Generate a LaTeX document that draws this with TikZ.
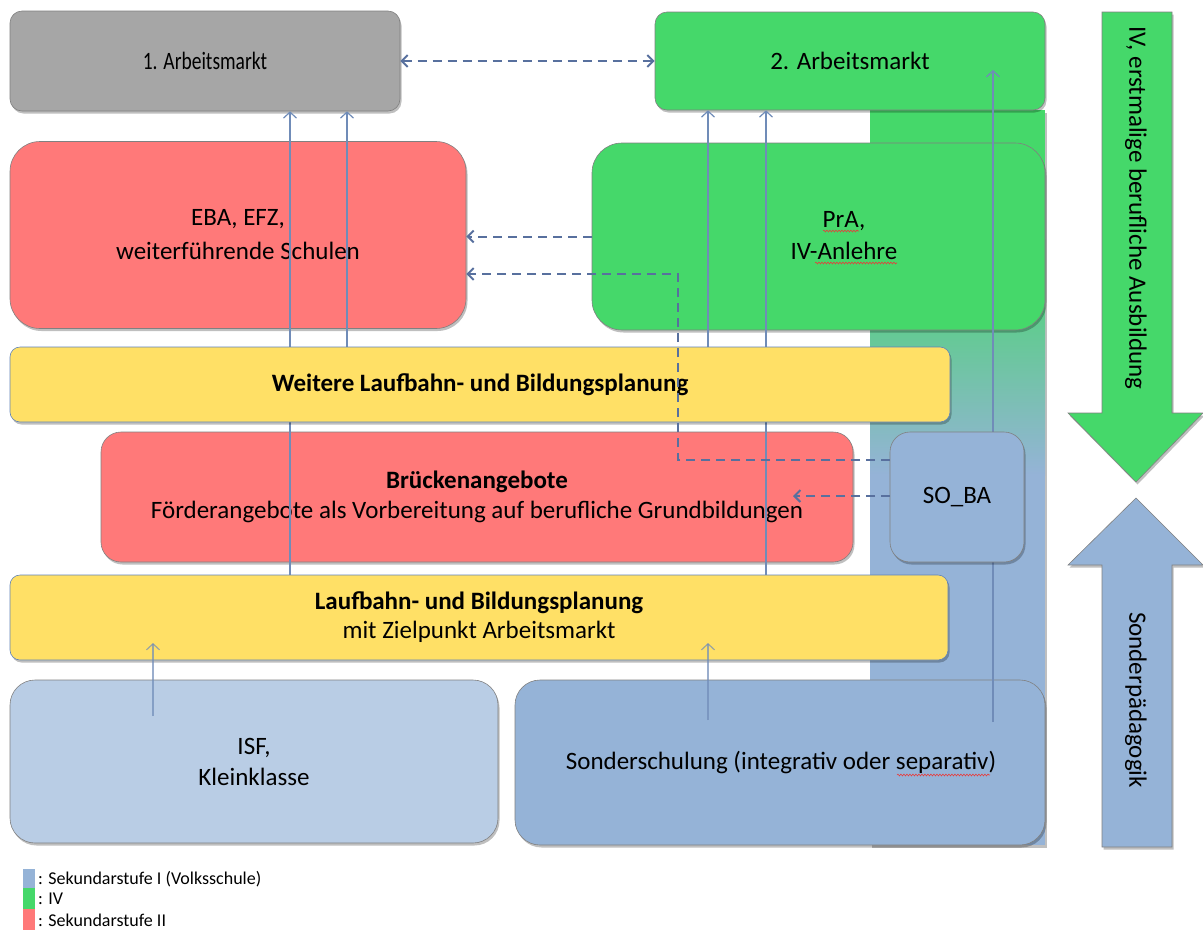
\documentclass[tikz,border=0pt]{standalone}
\usepackage{fontspec}
\setmainfont{Carlito}
\usetikzlibrary{arrows.meta,shadows,decorations.pathmorphing}
\definecolor{cgray}{RGB}{166,166,166}
\definecolor{cgreen}{RGB}{69,216,106}
\definecolor{cred}{RGB}{255,121,121}
\definecolor{cyellow}{RGB}{255,224,102}
\definecolor{clblue}{RGB}{185,205,229}
\definecolor{cblue}{RGB}{149,179,215}
\definecolor{carrow}{RGB}{112,140,184}
\definecolor{cdash}{RGB}{88,112,158}
\definecolor{cborder}{RGB}{128,128,128}
\definecolor{cyborder}{RGB}{95,130,185}
\definecolor{cspell}{RGB}{230,60,60}
\pgfdeclarelayer{bg}
\pgfdeclarelayer{arr}
\pgfsetlayers{bg,arr,main}
\begin{document}
\begin{tikzpicture}[x=1pt,y=-1pt,
  box/.style={draw=cborder, line width=0.6pt, rectangle, rounded corners=#1, inner sep=0pt, align=center,
    font=\fontsize{25}{32}\selectfont,
    drop shadow={shadow xshift=1.5pt, shadow yshift=-2.5pt, opacity=0.25, fill=black}},
  box/.default=12pt,
  ybox/.style={box=#1, draw=cyborder},
  lbl/.style={align=center, font=\fontsize{25}{32}\selectfont, inner sep=0pt},
  solidarr/.style={draw=carrow, line width=1.2pt, -{Straight Barb[length=6pt,width=13pt]}},
  dasharr/.style={draw=cdash, line width=2pt, dash pattern=on 9pt off 6pt},
  dtip/.style={-{Straight Barb[length=6pt,width=12pt]}},
  bigarr/.style={draw=cborder, line width=0.6pt, drop shadow={shadow xshift=1.5pt, shadow yshift=-2.5pt, opacity=0.25, fill=black}},
  spell/.style={draw=cspell, line width=0.6pt, decorate, decoration={snake, amplitude=0.9pt, segment length=3pt}},
  legtxt/.style={anchor=west, inner sep=0pt, font=\fontsize{18}{19}\selectfont}
]
\useasboundingbox (0,0) rectangle (1203,930);

\begin{pgfonlayer}{bg}
% gradient strip
\fill[cgreen, drop shadow={shadow xshift=1.5pt, shadow yshift=-2.5pt, opacity=0.25, fill=black}] (870,110) rectangle (1045,845);
\fill[cgreen] (870,110) rectangle (1045,240);
\shade[top color=cgreen, bottom color=cblue] (870,239) rectangle (1045,475);
\fill[cblue] (870,474) rectangle (1045,845);

\node[box=12pt, fill=cgray, minimum width=390pt, minimum height=100pt] (am1) at (205,61) {\scalebox{0.78}[1]{1. Arbeitsmarkt}};
\node[box=12pt, fill=cgreen, minimum width=390pt, minimum height=98pt] (am2) at (850,61) {2. Arbeitsmarkt};
\node[box=30pt, fill=cred, minimum width=456pt, minimum height=187pt, font=\fontsize{25}{34}\selectfont] (eba) at (238,235) {EBA, EFZ,\\weiterführende Schulen};
\node[box=30pt, fill=cgreen, minimum width=453pt, minimum height=187pt] (pra) at (818.5,236.5) {};
\node[box=20pt, fill=cred, minimum width=752pt, minimum height=130pt, font=\fontsize{25}{30}\selectfont] (bruecken) at (477,497) {\textbf{Brückenangebote}\\Förderangebote als Vorbereitung auf berufliche Grundbildungen};
\node[ybox=10pt, fill=cyellow, minimum width=938pt, minimum height=85pt, font=\fontsize{25}{29}\selectfont] (laufbahn) at (479,617.5) {\textbf{Laufbahn- und Bildungsplanung}\\mit Zielpunkt Arbeitsmarkt};
\node[box=25pt, fill=clblue, minimum width=488pt, minimum height=163pt, font=\fontsize{25}{31}\selectfont] (isf) at (254,761.5) {ISF,\\Kleinklasse};
\node[box=25pt, fill=cblue, minimum width=530pt, minimum height=165pt] (sonder) at (780,762.5) {};
\end{pgfonlayer}

\node[lbl] (praT) at (844,236) {PrA,\\IV-Anlehre};
\node[lbl] (sonderT) at (781,762) {Sonderschulung (integrativ oder separativ)};

\coordinate (x290) at (290,0);
\coordinate (x347) at (347,0);
\coordinate (x708) at (708,0);
\coordinate (x766) at (766,0);
\coordinate (s993a) at (993,722);
\coordinate (s993b) at (993,70);
\coordinate (low153) at (153,716);
\coordinate (low708) at (708,720);
\coordinate (tip153) at (153,643);
\coordinate (tip708) at (708,643);

\node[ybox=10pt, fill=cyellow, minimum width=940pt, minimum height=75pt] (weitere) at (480,384.5) {\textbf{Weitere Laufbahn- und Bildungsplanung}};

\begin{pgfonlayer}{arr}
\draw[solidarr] (laufbahn.north -| x290) -- (am1.south -| x290);
\draw[solidarr] (weitere.north -| x347) -- (am1.south -| x347);
\draw[solidarr] (weitere.north -| x708) -- (am2.south -| x708);
\draw[solidarr] (laufbahn.north -| x766) -- (am2.south -| x766);
\draw[solidarr] (s993a) -- (s993b);
\end{pgfonlayer}

\draw[solidarr, draw opacity=0.7] (low153) -- (tip153);
\draw[solidarr, draw opacity=0.7] (low708) -- (tip708);

\node[box=20pt, fill=cblue, minimum width=134pt, minimum height=130pt] (soba) at (957,497) {SO\_BA};

% dashed connectors
\coordinate (sobaA) at (890,460);
\coordinate (bendA) at (678,460);
\coordinate (bendB) at (678,274);
\coordinate (sobaB) at (890,496);
\coordinate (bruTip) at (793,496);
\draw[dasharr, {Straight Barb[length=6pt,width=12pt]}-{Straight Barb[length=6pt,width=12pt]}] (am1.east) -- (am1.east -| am2.west);
\draw[dasharr, dtip] (pra.west) -- (eba.east |- pra.west);
\draw[dasharr, dtip] (sobaA) -- (bendA) -- (bendB) -- (bendB -| eba.east);
\draw[dasharr, dtip] (sobaB) -- (bruTip);

% spell-check marks
\draw[spell] (823,231) -- (859,231);
\draw[spell] (815,263) -- (897,263);
\draw[spell] (897,775) -- (990,775);

% big arrows on the right
\path[bigarr, fill=cgreen] (1102,12) -- (1172,12) -- (1172,413) -- (1203,413) -- (1136,482) -- (1068,413) -- (1102,413) -- cycle;
\path[bigarr, fill=cblue] (1136,498) -- (1203,565) -- (1172,565) -- (1172,847) -- (1102,847) -- (1102,565) -- (1068,565) -- cycle;
\node[lbl, rotate=-90] (ivT) at (1136,208) {IV, erstmalige berufliche Ausbildung};
\node[lbl, rotate=-90] (spT) at (1136,700) {Sonderpädagogik};

% legend
\fill[cblue] (23,869) rectangle (35,888);
\fill[cgreen] (23,888) rectangle (35,909);
\fill[cred] (23,909) rectangle (35,930);
\node[legtxt] (leg1) at (38,879) {: Sekundarstufe I (Volksschule)};
\node[legtxt] (leg2) at (38,899) {: IV};
\node[legtxt] (leg3) at (38,920) {: Sekundarstufe II};
\end{tikzpicture}
\end{document}
